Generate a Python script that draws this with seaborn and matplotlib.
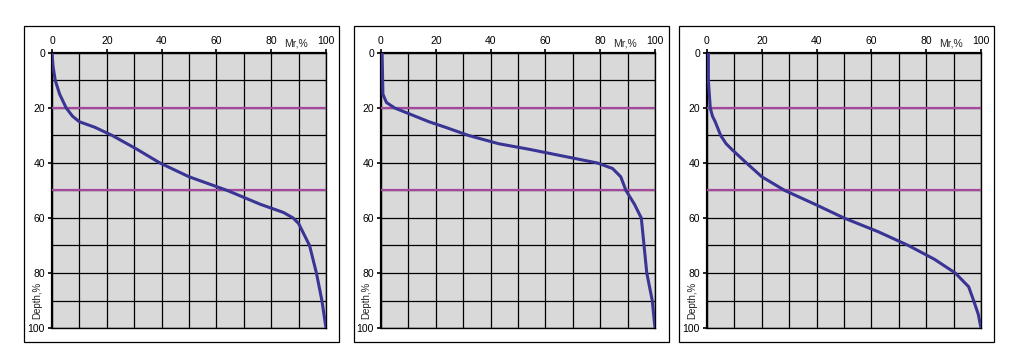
import matplotlib
matplotlib.use("Agg")
import matplotlib.pyplot as plt
from matplotlib.patches import Rectangle
import seaborn as sns
import pandas as pd

sns.set_theme(style="white")
plt.rcParams["font.family"] = ["Liberation Sans", "DejaVu Sans"]

# ── data (Mr,% vs depth,%) ──────────────────────────────────────────────────
depth_1 = [0, 5, 10, 15, 20, 23, 25, 27, 30, 35, 40, 45, 50, 55, 58, 60, 62, 70, 80, 90, 100]
mr_1    = [0, 0.4, 1.2, 2.8, 5.2, 7.5, 10, 15.6, 22, 31, 39.4, 50, 64, 76, 84.5, 88, 90, 94, 96.5, 98.5, 100]

depth_2 = [0, 10, 15, 18, 20, 22, 25, 27, 30, 33, 35, 37, 40, 42, 45, 50, 55, 60, 70, 80, 85, 90, 100]
mr_2    = [0.4, 0.6, 0.7, 2, 5, 10, 17.5, 23.5, 32, 43, 54, 64, 79, 84.5, 87.5, 89.4, 92.5, 95, 96, 97, 98, 99, 100]

depth_3 = [0, 10, 20, 23, 25, 30, 33, 35, 40, 45, 50, 55, 60, 65, 70, 75, 80, 85, 90, 95, 100]
mr_3    = [0.5, 0.5, 1.2, 2, 3, 5, 7, 9, 14.4, 20, 28.4, 39.4, 50, 62.5, 73.5, 83, 90.6, 95.5, 97.3, 99, 100]

ZONE_DEPTHS = [20, 50]
TICKS = [0, 20, 40, 60, 80, 100]

profiles = [(mr_1, depth_1), (mr_2, depth_2), (mr_3, depth_3)]

W, H = 1009, 357
fig = plt.figure(figsize=(W / 100, H / 100), dpi=100)
fig.patch.set_facecolor("white")

ax_lefts = [52, 381, 707]
frames = [(24, 339), (354, 669), (679, 994)]
ax_w, ax_top, ax_bot = 274, 53, 328

for (fl, fr) in frames:
    fig.add_artist(Rectangle((fl / W, 1 - 342 / H), (fr - fl) / W, (342 - 26) / H,
                             transform=fig.transFigure, fill=False,
                             edgecolor="black", linewidth=0.9))

for left, (mr, depth) in zip(ax_lefts, profiles):
    ax = fig.add_axes([left / W, 1 - ax_bot / H, ax_w / W, (ax_bot - ax_top) / H])
    ax.set_facecolor("#d9d9d9")
    df = pd.DataFrame({"mr": mr, "depth": depth})
    sns.lineplot(data=df, x="mr", y="depth", sort=False, estimator=None,
                 color="#3a3494", linewidth=2.2, ax=ax, zorder=4)
    for d in ZONE_DEPTHS:
        ax.axhline(d, color="#a3489c", linewidth=1.6, zorder=3)

    ax.set_xlim(0, 100)
    ax.set_ylim(100, 0)
    ax.set_xticks(range(0, 101, 10), minor=True)
    ax.set_yticks(range(0, 101, 10), minor=True)
    ax.set_xticks(TICKS)
    ax.set_yticks(TICKS)
    ax.grid(True, which="both", color="black", linewidth=0.9)
    ax.set_axisbelow(True)
    ax.xaxis.tick_top()
    ax.tick_params(axis="both", which="major", direction="out", length=3, width=1.2,
                   labelsize=7.5, pad=2, colors="black", top=True, left=True,
                   bottom=False, right=False)
    ax.tick_params(axis="both", which="minor", length=0)
    ax.set_xlabel("")
    ax.set_ylabel("")
    for side, sp in ax.spines.items():
        sp.set_color("black")
        sp.set_linewidth(1.6 if side in ("left", "top") else 1.0)
    ax.text(89, -1.5, "Mr,%", fontsize=7.5, ha="center", va="bottom")
    ax.text(-5.5, 90, "Depth,%", fontsize=7, ha="center", va="center",
            rotation=90)

fig.savefig("out.png", dpi=100, facecolor="white")
